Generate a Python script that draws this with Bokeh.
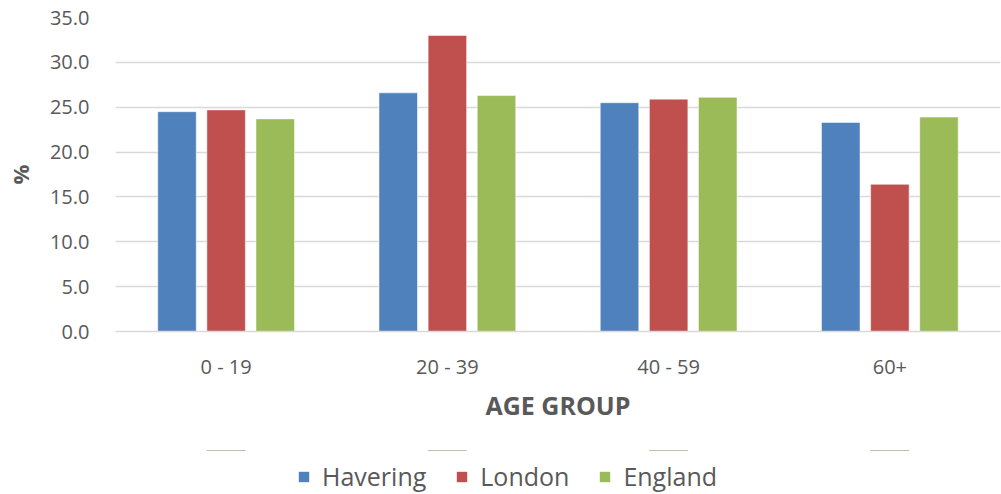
from bokeh.plotting import figure
from bokeh.layouts import column
from bokeh.models import FactorRange, FixedTicker, NumeralTickFormatter, Legend, LegendItem, ColumnDataSource
from bokeh.transform import dodge
from bokeh.embed import file_html
from bokeh.resources import INLINE

categories = ["0 - 19", "20 - 39", "40 - 59", "60+"]
havering = [24.5, 26.6, 25.5, 23.3]
london = [24.7, 33.0, 25.9, 16.4]
england = [23.7, 26.3, 26.1, 23.9]
series_names = ["Havering", "London", "England"]
colors = ["#4F81BD", "#C0504D", "#9BBB59"]
y_ticks = [0, 5, 10, 15, 20, 25, 30, 35]

src = ColumnDataSource(dict(cat=categories, Havering=havering, London=london, England=england))

p = figure(x_range=FactorRange(*categories), y_range=(0, 35), width=1001, height=450,
           output_backend="svg", toolbar_location=None,
           min_border_left=115, min_border_right=1, min_border_top=17, min_border_bottom=119)
p.x_range.range_padding = 0
p.outline_line_color = None

offsets = [-0.222, 0.0, 0.222]
for name, col, off in zip(series_names, colors, offsets):
    p.vbar(x=dodge("cat", off, range=p.x_range), top=name, width=0.174, source=src,
           fill_color=col, line_color="white", line_alpha=0.5, line_width=1)

font = "Open Sans"
label_color = "#595959"

p.yaxis.ticker = FixedTicker(ticks=y_ticks)
p.yaxis.formatter = NumeralTickFormatter(format="0.0")
p.yaxis.axis_line_color = None
p.yaxis.major_tick_line_color = None
p.yaxis.minor_tick_line_color = None
p.yaxis.major_label_text_font = font
p.yaxis.major_label_text_font_size = "20px"
p.yaxis.major_label_text_color = label_color
p.yaxis.major_label_standoff = 20
p.yaxis.axis_label = "%"
p.yaxis.axis_label_text_font = font
p.yaxis.axis_label_text_font_size = "22px"
p.yaxis.axis_label_text_font_style = "bold"
p.yaxis.axis_label_text_color = label_color
p.yaxis.axis_label_standoff = 12

p.xaxis.axis_line_color = "#D9D9D9"
p.xaxis.axis_line_width = 1.5
p.xaxis.major_tick_line_color = None
p.xaxis.minor_tick_line_color = None
p.xaxis.major_label_text_font = font
p.xaxis.major_label_text_font_size = "20px"
p.xaxis.major_label_text_color = label_color
p.xaxis.major_label_standoff = 15
p.xaxis.axis_label = "AGE GROUP"
p.xaxis.axis_label_text_font = font
p.xaxis.axis_label_text_font_size = "25px"
p.xaxis.axis_label_text_font_style = "bold"
p.xaxis.axis_label_text_color = label_color
p.xaxis.axis_label_standoff = 5

p.xgrid.grid_line_color = None
p.ygrid.grid_line_color = "#D9D9D9"
p.ygrid.grid_line_width = 1.5

# legend strip: zero-height copies of the bars (out of view), so only their legend entries show
pl = figure(x_range=FactorRange(*categories), y_range=(-1000, -999), width=1001, height=44,
            output_backend="svg", toolbar_location=None,
            x_axis_type=None, y_axis_type=None,
            min_border_left=0, min_border_right=0, min_border_top=0, min_border_bottom=0)
pl.outline_line_color = None
pl.grid.visible = False
items = []
for name, col in zip(series_names, colors):
    r = pl.vbar(x="cat", top=name, bottom=name, width=0.174, source=src,
                fill_color=col, line_color=None)
    items.append(LegendItem(label=name, renderers=[r]))

legend = Legend(items=items, orientation="horizontal", location=(182, 1),
                glyph_width=13, glyph_height=13, label_standoff=12, spacing=29,
                label_height=28, padding=0, margin=0, border_line_color=None,
                background_fill_alpha=0,
                label_text_font=font, label_text_font_size="25px", label_text_color=label_color)
pl.add_layout(legend, "center")

layout = column(p, pl, spacing=0)
open("out.html", "w").write(file_html(layout, INLINE))
